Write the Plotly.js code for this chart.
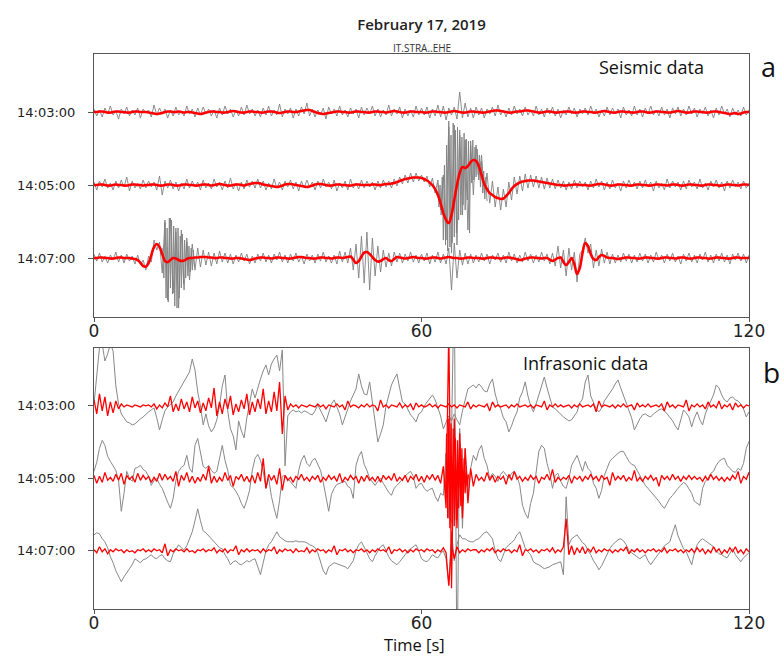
<!DOCTYPE html>
<html><head><meta charset="utf-8">
<script src="https://cdn.plot.ly/plotly-3.0.1.min.js"></script>
<style>html,body{margin:0;padding:0;background:#fff}</style>
</head><body><div id="chart" style="width:784px;height:657px"></div>
<script>
// sample spacing of the full-length traces (s)
const DT = 0.5;
const stationLabels = ['14:03:00','14:05:00','14:07:00'];
const xTicks = [0,60,120];

// ---- Seismic (panel a), amplitudes ----
const seisGray1 = [
 3,-4,2,-5,4,-2,6,-3,1,-7,3,-2,5,-4,2,-3,4,-6,3,-1,
 2,-5,7,-3,4,-2,3,-6,2,-4,5,-3,1,-4,6,-2,3,-5,4,-3,
 5,-2,3,-4,2,-6,4,-3,6,-2,3,-5,2,-4,5,-3,7,-2,3,-4,
 2,-5,4,-3,6,-4,2,-3,8,-5,3,-2,4,-6,3,-4,5,-2,9,-4,
 3,-5,2,-3,4,-7,5,-2,3,-4,6,-3,2,-5,4,-2,3,-6,5,-3,
 4,-2,6,-4,3,-5,2,-3,7,-4,3,-2,5,-6,3,-4,2,-5,6,-3,
 4,-3,5,-6,3,-4,7,-5,6,-8,4,-3,5,-7,20,-6,9,-5,4,-6,
 5,-3,4,-6,3,-2,5,-4,7,-3,2,-5,4,-3,6,-2,3,-4,5,-3,
 2,-4,6,-3,3,-5,4,-2,5,-4,3,-6,2,-3,5,-2,4,-5,3,-2,
 4,-3,6,-2,3,-5,2,-4,5,-3,4,-2,3,-6,5,-3,2,-4,6,-3,
 3,-5,4,-2,6,-3,2,-4,5,-3,3,-6,4,-2,5,-4,3,-3,6,-2,
 4,-5,3,-2,5,-4,2,-6,4,-3,6,-2,3,-5,4,-3,2,-4,5,-3,
 2];
const seisGray2 = [
 3,-5,4,-2,6,-3,2,-5,4,-3,5,-2,8,-6,4,-3,2,-4,5,-3,
 4,-2,3,-5,9,-10,4,-3,5,-4,3,-6,2,-4,6,-3,4,-2,3,-5,
 5,-3,2,-4,6,-2,3,-5,4,-3,7,-4,2,-6,3,-4,5,-2,4,-3,
 6,-3,4,-5,2,-4,6,-3,3,-5,4,-2,5,-4,3,-6,4,-3,5,-2,
 3,-5,4,-3,6,-2,3,-4,5,-6,2,-3,4,-5,6,-3,2,-4,5,-3,
 4,-2,3,-5,4,-3,5,-2,4,-3,6,-1,8,1,10,2,12,3,12,4,
 10,3,9,-2,7,-8,5,-25,10,-55,64,-68,60,-60,55,-30,45,-45,44,-10,
 40,5,30,-8,12,-18,4,-22,-2,-25,-4,-22,3,-15,8,-9,9,-6,11,-3,
 10,-2,9,-3,8,-4,7,-3,6,-4,5,-3,4,-5,3,-4,5,-3,4,-2,
 3,-5,4,-3,6,-2,4,-5,3,-4,5,-3,2,-6,4,-3,5,-2,3,-4,
 4,-3,5,-2,3,-6,4,-3,2,-5,6,-3,4,-2,3,-5,4,-4,5,-2,
 3,-4,6,-3,2,-5,4,-2,5,-3,3,-6,4,-3,5,-2,3,-4,4,-3,
 2];
// finer samples (0.2 s) of the strong arrival on the 14:05 trace, from 63 s
const seisGray2Burst = [
 2,-22,0,-30,8, -55,20,-60,40,-66, 58,-62,50,-58,62, -52,55,-48,58,-35,
 50,-30,48,-20,52, -25,46,-15,44,-48, 40,2,45,5,38, 8,36,10,30,-2,
 24,-8,14,-14,8, -16];
const seisGray3 = [
 4,-3,5,-4,2,-5,3,-2,6,-4,3,-5,4,-3,2,-6,3,-7,-2,-12,
 2,-4,18,8,16,-15,38,-42,40,-35,30,-50,28,-32,20,-22,14,-12,10,-9,
 8,-7,6,-8,5,-6,7,-4,5,-5,4,-6,3,-4,5,-3,4,-6,2,-5,
 4,-3,5,-4,3,-5,4,-2,6,-4,3,-5,4,-3,5,-4,2,-6,4,-3,
 3,-5,4,-3,6,-4,2,-5,3,-6,7,-4,6,-5,10,-12,14,-20,22,-25,
 26,-32,20,-18,12,-14,8,-9,5,-8,6,-4,5,-5,4,-3,6,-4,3,-5,
 4,-3,5,-6,3,-4,6,-5,4,-6,10,-32,15,-20,8,-7,5,-6,4,-5,
 3,-4,5,-3,4,-6,3,-2,5,-4,3,-5,6,-3,4,-5,3,-4,6,-3,
 4,-5,3,-4,6,-3,4,-6,5,-8,12,-10,8,-18,10,-12,6,-24,4,8,
 20,5,14,-10,8,-8,9,-5,6,-6,4,-5,3,-4,5,-3,4,-5,3,-4,
 5,-3,4,-5,3,-4,6,-2,3,-5,4,-3,5,-4,2,-6,4,-3,5,-4,
 3,-5,4,-2,6,-4,3,-5,4,-3,5,-4,3,-6,4,-2,5,-3,4,-5,
 3];
// finer samples (0.2 s) of the first burst on the 14:07 trace, from 12.6 s
const seisGray3Burst = [
 10,-20, 36,-40,30,-44,40, -30,38,-36,32,-48, 26,-50,30,-40,22,
 -30,24,-26,18,-20, 16,-18,12,-14,10, -12,8,-9];
const seisRed1 = [
 0,0,0.5,0.5,0,-0.5,-0.5,0,0.5,0.5,0,0,-0.5,-0.5,0,0.5,0.5,0,0,0,
 -0.5,-1,-1.5,-2,-1.5,-1,0,0.5,0.5,0,0,0.5,0,-0.5,0,0,-0.5,-1,-1.5,-2,
 -1.5,-0.5,0,0.5,0.5,0,0,-0.5,-0.5,0,0.5,1,0.5,0,-0.5,-0.5,0,0.5,0.5,0,
 0,-0.5,-0.5,0,0.5,0.5,0,-0.5,-1,-0.5,0,0.5,0.5,0,0,0.5,1,1.5,2,2,
 1,0,-1,-1.5,-2,-1.5,-1,-0.5,0,0.5,0.5,0,0,-0.5,-0.5,0,0.5,0.5,0,0,
 -0.5,-0.5,0,0.5,0.5,0,0,-0.5,0,0.5,1,0.5,0,-0.5,-0.5,0,0.5,0.5,0,0,
 0,-0.5,-0.5,0,0.5,0.5,0,0,-0.5,-0.5,0,0.5,1,0.5,0,-0.5,-0.5,0,0.5,0.5,
 0,0,-0.5,-0.5,0,0.5,1,1.5,1.5,1,0.5,0,-0.5,-0.5,0,0.5,0.5,1,1.5,1.5,
 1,0.5,0,-0.5,-0.5,0,0.5,0.5,0,-0.5,-0.5,0,0,0.5,0.5,0,-0.5,-0.5,0,0.5,
 0.5,0,0,-0.5,-0.5,0,0.5,1,0.5,0,-0.5,-0.5,0,0.5,0.5,0,0,-0.5,-0.5,0,
 0.5,0.5,0,-0.5,-0.5,0,0.5,0.5,0,0,-0.5,-0.5,0,0.5,1,0.5,0,-0.5,-0.5,0,
 0.5,0.5,0,0,-0.5,-0.5,0,0.5,0.5,0,-0.5,-1,-1.5,-2,-1.5,-1,-2,-1.5,-0.5,0,
 0];
const seisRed2 = [
 0,0,0.5,0.5,0,-0.5,-0.5,0,0.5,0,0,-0.5,-0.5,0,0.5,0.5,0,0,-0.5,0,
 0,0.5,0.5,0,-0.5,-0.5,0,0.5,0.5,0,-0.5,-0.5,0,0.5,0.5,0,0,-0.5,-0.5,0,
 0.5,0.5,0,-0.5,0,0.5,1,0.5,0,-0.5,-0.5,0,0.5,0.5,0,-0.5,0.5,1,1.5,2,
 2,1.5,0.5,0,-0.5,-1,-1.5,-2,-1.5,-0.5,0.5,1,1,0.5,0,-0.5,-1,-1.5,-2,-1.5,
 -0.5,0.5,1,1,0.5,0,-0.5,-0.5,0,0.5,0.5,0,0,-0.5,-0.5,0,0.5,0.5,0,0,
 0,0,0.5,0.5,0,0,0.5,1,1,1.5,2,3,4,5,6,6.5,7,7.5,7.5,7.5,
 7,6,4.5,2.5,0,-4,-10,-18,-28,-35,-38,-30,-15,0,12,18,17,19,23,25,
 24,19,10,1,-4,-8,-10,-12,-13,-14,-13.5,-11,-8,-4,-1,1,2.5,3.5,4,4.5,
 4.6,4.5,4,3.5,3,2.5,2,1.5,1,0.5,0,0,-0.5,-0.5,0,0,0.5,0.5,0,0,
 0,-0.5,-0.5,0,0.5,1,1,0.5,0,-0.5,-0.5,0,0.5,0.5,0,0,-0.5,-0.5,0,0.5,
 0.5,0,0,-0.5,-0.5,0,0.5,0.5,0,0,-0.5,0,0.5,0.5,0,-0.5,-0.5,0,0.5,0.5,
 0,0,-0.5,-0.5,0,0.5,0.5,0,0,-0.5,-0.5,0,0.5,0.5,0,0,-0.5,0,0.5,0.5,
 0];
const seisRed3 = [
 0,0,0.5,0.5,0,0,-0.5,-0.5,0,0.5,0.5,0,0,0,-0.5,-1,-2,-4.5,-8,-8.5,
 -5,3,11,14,11,4,-3,-4,-2,0,-0.5,-2,-3,-2.5,-1,0,0,0.5,0.5,1,
 1,1,0.5,0.5,0,0,0.5,0.5,0,0,-0.5,-0.5,0,0,-0.5,-1,-1.5,-2,-1.5,-0.5,
 0,0.5,0.5,0,0,-0.5,0,0.5,0.5,0,0,-0.5,-0.5,0,0.5,1,1,0.5,0,0,
 -0.5,-0.5,0,0.5,0.5,0,0,-0.5,0,0.5,0.5,0,0.5,1,1.5,-1.5,-5,-3,1.5,5.5,
 6,4,1,-2,-3.5,-3,-1,0,-2,-3,-1,1,0.5,0,-0.5,0,0.5,1,0.5,0,
 0,-0.5,-0.5,0,0.5,0.5,0,-0.5,0,0.5,1,0.5,0,0,-0.5,-0.5,0,0.5,0.5,0,
 0,0,-0.5,-0.5,0,0.5,0.5,0,0,-0.5,0,0.5,0.5,0,-0.5,-1,-2,-1.5,-0.5,0,
 0.5,0.5,0,0,-0.5,0,0,-1.5,-3,-1.5,0,0.5,-4,-7,-4,0,-6,-16,-10,5,
 15,12,4,-1,-2,1,3,2,0.5,0,0,-0.5,-1,-0.5,0,0.5,0.5,0,0,-0.5,
 -0.5,0,0.5,0.5,0,0,-0.5,-0.5,0,0.5,0.5,0,0,-0.5,0,0.5,0.5,0,-0.5,-0.5,
 0,0.5,0.5,0,0,-0.5,-0.5,0,0.5,0.5,0,0,-0.5,-0.5,0,0.5,0.5,0,0,0,
 0];

// ---- Infrasonic (panel b) ----
const infraGray1 = [
 2,30,58,62,45,52,62,55,20,2,-8,-12,-16,-17,-19,-18,-15,-13,-11,-8,
 -6,-4,-2,-12,-24,-14,-5,-1,2,4,10,15,20,25,30,34,47,36,14,0,
 -19,-8,-20,-26,-22,-14,0,20,31,-5,-23,-30,-44,-15,-25,-32,-12,2,17,8,
 18,27,35,41,31,42,47,51,35,56,-60,-10,-6,-4,-6,-5,-7,-5,-6,-8,
 -9,-5,1,-4,-10,-16,-8,2,6,-1,-8,-19,-12,-3,5,12,17,32,20,12,
 11,24,2,-18,-36,-28,-19,0,11,21,27,32,18,4,2,-4,-9,-12,-16,-8,
 -6,0,4,8,11,6,-2,-10,-23,-17,-10,-15,-8,-14,-19,-5,5,17,19,21,
 18,22,19,15,14,22,27,12,2,-3,-12,-16,-26,-20,-12,-6,8,14,24,10,
 0,-6,2,11,20,29,18,7,-1,-3,-6,-8,-11,-13,-15,-14,-10,-6,3,7,
 24,31,10,4,-3,-6,-2,5,9,12,17,22,26,18,10,2,-6,-12,-24,-18,
 -13,-9,-8,-10,-11,-8,-6,-4,-3,-5,-8,-11,-15,-20,-24,-14,-4,-7,-11,-21,
 -12,-6,-14,-19,-8,-1,6,11,21,18,11,6,4,8,9,6,5,2,-3,-11,
 -6];
const infraGray2 = [
 7,16,30,38,33,22,17,13,8,-2,-33,-15,7,0,-3,10,11,13,9,7,
 2,-7,-2,0,-6,-10,-18,-24,-30,-20,-2,7,11,13,23,10,6,33,40,25,
 12,10,13,8,5,7,20,33,18,8,-7,-9,-13,-18,-25,-30,-22,-12,8,20,
 24,18,7,-10,0,-18,-30,-40,-22,2,3,0,-3,-6,-10,8,18,23,15,12,
 18,20,14,8,-4,-18,-33,-16,-10,-6,-5,-4,-3,-8,-10,-20,13,22,27,14,
 8,0,-4,-7,-3,0,-5,-10,-14,-17,-10,-7,-4,0,3,5,7,2,-10,-6,
 -5,-10,-13,-11,-10,-18,-23,-15,-17,25,-40,45,200,-200,50,-50,30,-20,10,23,
 18,28,33,20,13,0,5,2,-3,4,7,3,0,5,7,2,-7,-27,-35,-40,
 -25,-15,7,27,33,30,15,5,-10,3,5,-3,-8,-10,0,13,18,23,15,7,
 17,10,7,-5,-10,-20,-12,3,10,17,20,23,25,27,27,22,17,14,13,8,
 3,-2,-7,-10,-13,-16,-20,-23,-27,-30,-25,-20,-17,-13,-10,-7,-4,-6,-10,-15,
 -23,-25,-27,-10,-3,0,5,7,13,17,19,20,13,10,7,6,10,8,15,30,
 37];
const infraGray3 = [
 16,18,17,12,9,3,-6,-12,-20,-25,-31,-26,-22,-17,-14,-8,-10,-12,-9,-8,
 -6,-4,-7,-8,-5,-4,-8,-10,-11,-3,1,6,3,1,5,12,19,30,42,30,
 20,18,15,12,8,5,3,2,-4,-8,-14,-11,-10,-13,-14,-12,-10,-11,-9,-8,
 -15,-24,-12,0,6,9,14,19,14,12,10,9,9,9,10,9,9,9,8,6,
 5,3,-2,-12,-20,-24,-16,-14,-12,-13,-14,-15,-16,-18,-14,-10,0,6,9,4,
 -2,-8,-11,-5,0,4,6,0,-6,-10,-12,-14,-11,-8,-4,0,2,4,6,0,
 -8,-10,-11,-8,-4,-6,-7,-3,0,-8,-34,19,-10,6,16,12,12,10,9,9,
 11,12,15,18,19,16,12,0,-8,-11,-3,3,6,8,11,16,19,10,3,-1,
 -4,-11,-13,-14,-16,-18,-17,-16,-14,-13,-12,-11,-24,54,6,12,14,16,12,8,
 6,0,-4,-10,-14,-19,-15,-9,-3,2,6,9,11,12,10,6,0,-2,-4,-6,
 -8,-6,-4,-10,-14,-10,-6,-2,2,5,7,9,18,26,15,8,2,-1,-8,-14,
 -2,6,10,12,10,8,6,4,0,-3,-4,-6,-7,-2,2,-4,-8,-11,-7,-4,
 -2];
const infraRed1 = [
 6,-8,12,-5,9,-10,4,-7,5,-3,2,-1,1,0,-1,1,0,-1,1,0,
 1,-1,2,-3,1,-2,3,-1,10,-6,2,-5,7,-3,4,-6,9,-2,5,-7,
 3,-5,8,-2,18,-10,4,-8,7,-3,10,-9,2,-6,6,-3,12,-9,4,-6,
 7,-3,17,-8,5,-6,14,-5,24,-28,10,-4,2,-1,1,-2,1,0,-1,1,
 0,-1,2,-1,1,-3,1,0,-1,2,-1,1,-4,5,-1,1,0,-2,1,-1,
 2,-1,1,0,-5,6,-1,1,-2,1,0,-1,3,-2,1,-1,2,-4,3,-1,
 1,-1,0,2,-1,1,-2,1,0,-1,2,-1,1,-2,1,0,-1,4,-3,1,
 -1,1,0,-1,2,-5,4,-1,1,-1,0,1,-2,1,-1,2,-1,0,1,-1,
 1,-2,1,0,-1,5,-4,1,-1,2,-1,1,-1,0,1,-2,1,-1,2,-1,
 0,1,-1,2,-6,5,-1,1,0,-1,1,-2,1,-1,2,-1,0,1,-4,3,
 -1,1,-1,2,-1,0,1,-1,2,-5,4,-1,1,-2,1,0,-1,6,-5,1,
 -1,2,-1,1,-3,4,-1,1,-2,5,-3,1,-1,2,-4,3,-1,1,-2,1,
 0];
const infraRed2 = [
 3,-5,2,-4,6,-2,1,-3,4,-2,5,-6,3,-1,2,-4,5,-2,3,-1,
 2,-4,1,-3,5,-2,4,-1,2,-3,7,-8,3,-2,6,-4,2,-5,1,-3,
 4,-2,12,-5,2,-4,1,-3,6,-2,3,-8,2,-1,4,-3,2,-4,3,-5,
 6,-3,20,-10,4,-2,3,-6,10,-12,3,-2,1,-4,2,-1,4,-2,1,-3,
 2,-1,3,-4,1,-2,3,-1,2,-3,5,-4,1,-2,3,-1,2,-5,2,-3,
 3,-2,1,-3,2,-4,3,-1,2,-2,5,-3,1,-2,3,-4,2,-1,4,-3,
 2,-4,3,-1,4,-2,3,-5,12,-30,150,-110,60,-50,45,-40,30,-25,10,-8,
 4,-2,1,-3,6,-2,3,-4,2,-1,2,-6,4,-2,7,-1,2,-3,1,-2,
 3,-1,2,-5,1,-1,4,-2,9,-4,1,-2,1,-1,3,-5,2,-1,2,-3,
 2,-1,4,-1,2,-3,3,-1,1,-7,6,-2,2,-1,3,-3,1,-2,8,-3,
 1,-3,2,-1,3,-2,1,-8,3,-1,2,-2,4,-1,2,-3,2,-1,3,-1,
 2,-1,1,-3,2,-2,4,-1,2,-2,1,-3,1,-2,3,-1,7,-5,2,-1,
 6];
// finer samples (0.2 s) of the explosion burst on the 14:05 infrasound trace, from 64.4 s
const infraRed2Burst = [
 -20,45,-40, 60,-50,55,-45,50, -48,40,-42,38,-30, 35,-28,30,-22,20, -15,12,-8,4];
const infraRed3 = [
 1,-2,4,-1,2,-3,1,-1,2,0,1,-2,1,-1,0,-2,1,0,2,-1,
 1,-1,2,0,1,-2,7,-5,1,-1,2,0,1,-1,2,-1,0,-2,1,0,
 2,-1,1,0,3,-2,1,-1,2,-2,1,0,5,-4,1,-1,2,-1,1,0,
 1,-2,2,-1,1,0,4,-3,1,-1,2,0,1,-2,2,-1,0,-1,3,-2,
 1,-1,2,0,1,-2,1,-1,5,-4,1,0,2,-1,1,-2,1,0,2,-1,
 1,-2,1,-1,2,0,1,-1,4,-3,1,0,2,-1,1,-2,1,-1,2,0,
 1,-1,2,0,1,-2,1,-1,3,-2,-35,6,-8,4,-2,1,-1,2,0,1,
 1,-2,1,-1,2,0,3,-2,1,-1,2,0,1,-2,1,-1,6,-5,1,0,
 2,-1,1,-2,1,0,2,-1,3,-2,1,-1,4,32,-4,5,-4,3,-2,4,
 -3,2,-1,4,-2,1,-1,2,0,1,-2,1,-1,2,0,4,-3,1,-1,2,
 -1,1,-2,1,0,2,-1,1,-1,3,-2,1,0,2,-1,1,-2,1,-1,2,
 -2,3,-1,2,-3,1,-2,4,-1,2,-3,1,-2,3,-1,4,-2,1,-3,2,
 -1];

// ---- layout helpers (positions, not data) ----
const seisOffsets = [0,-73,-146];
const infraOffsets = [0,-72.5,-145];
function timeAxis(n, start, step){ const t=[]; for(let i=0;i<n;i++) t.push(start+i*step); return t; }
function shift(arr,off){ return arr.map(v=>v+off); }

const traces = [];
function addTrace(arr, off, ax, ay, color, width, shape, start, step){
  traces.push({x:timeAxis(arr.length, start||0, step||DT), y:shift(arr,off), xaxis:ax, yaxis:ay,
    type:'scatter', mode:'lines', line:{color:color, width:width, shape:shape||'linear'},
    hoverinfo:'skip', showlegend:false});
}
const GRAY = '#808080', RED = '#ff0000';
[seisGray1,seisGray2,seisGray3].forEach((a,k)=>addTrace(a,seisOffsets[k],'x','y',GRAY,0.9));
addTrace(seisGray2Burst, seisOffsets[1], 'x','y', GRAY, 0.9, 'linear', 63, 0.2);
addTrace(seisGray3Burst, seisOffsets[2], 'x','y', GRAY, 0.9, 'linear', 12.6, 0.2);
[seisRed1,seisRed2,seisRed3].forEach((a,k)=>addTrace(a,seisOffsets[k],'x','y',RED,2.6,'spline'));
[infraGray1,infraGray2,infraGray3].forEach((a,k)=>addTrace(a,infraOffsets[k],'x2','y2','#888888',1));
[infraRed1,infraRed2,infraRed3].forEach((a,k)=>addTrace(a,infraOffsets[k],'x2','y2',RED,1.3));
addTrace(infraRed2Burst, infraOffsets[1], 'x2','y2', RED, 1.3, 'linear', 64.4, 0.2);

const axisCommon = {showline:true, mirror:true, linecolor:'#555', linewidth:1,
  showgrid:false, zeroline:false, ticks:'outside', tickcolor:'#555'};
const xFont = {family:'DejaVu Sans, sans-serif', size:17, color:'#222'};
const yFont = {family:'DejaVu Sans, sans-serif', size:13, color:'#222'};
const textFont = 'Open Sans, sans-serif';

const layout = {
  width:784, height:657,
  margin:{l:94, r:35, t:54, b:48},
  paper_bgcolor:'#fff', plot_bgcolor:'#fff',
  showlegend:false,
  font:{family:textFont, color:'#222'},
  title:{text:'February 17, 2019', font:{family:textFont, size:15, weight:600, color:'#222'},
    x:0.5, xref:'paper', xanchor:'center', y:1-25/657, yref:'container', yanchor:'middle'},
  xaxis:Object.assign({}, axisCommon, {domain:[0,1], anchor:'y', range:[0,120], tickvals:xTicks, ticklen:4, ticklabelstandoff:-5, tickfont:xFont}),
  yaxis:Object.assign({}, axisCommon, {domain:[0.526,1], anchor:'x', range:[-205,58], tickvals:seisOffsets, ticktext:stationLabels, ticklen:5, ticklabelstandoff:10, tickfont:yFont}),
  xaxis2:Object.assign({}, axisCommon, {domain:[0,1], anchor:'y2', range:[0,120], tickvals:xTicks, ticklen:4, ticklabelstandoff:-5, tickfont:xFont}),
  yaxis2:Object.assign({}, axisCommon, {domain:[0,0.4703], anchor:'x2', range:[-203.3,58], tickvals:infraOffsets, ticktext:stationLabels, ticklen:5, ticklabelstandoff:10, tickfont:yFont}),
  annotations:[
    {text:'IT.STRA..EHE', xref:'paper', yref:'paper', x:0.5, y:1.0, xanchor:'center', yanchor:'bottom', yshift:-3, showarrow:false,
      font:{family:textFont, size:10, color:'#333'}},
    {text:'Seismic data', xref:'paper', yref:'paper', x:0.8504, y:0.9766, xanchor:'center', yanchor:'middle', showarrow:false,
      font:{family:textFont, size:18, color:'#111'}},
    {text:'a', xref:'paper', yref:'paper', x:1.030, y:0.9766, xanchor:'center', yanchor:'middle', showarrow:false,
      font:{family:textFont, size:27, color:'#111'}},
    {text:'Infrasonic data', xref:'paper', yref:'paper', x:0.751, y:0.443, xanchor:'center', yanchor:'middle', showarrow:false,
      font:{family:textFont, size:18, color:'#111'}},
    {text:'b', xref:'paper', yref:'paper', x:1.034, y:0.427, xanchor:'center', yanchor:'middle', showarrow:false,
      font:{family:textFont, size:28, color:'#111'}},
    {text:'Time [s]', xref:'paper', yref:'paper', x:0.490, y:-0.0631, xanchor:'center', yanchor:'middle', showarrow:false,
      borderpad:0, font:{family:textFont, size:16.5, color:'#111'}}
  ]
};
Plotly.newPlot('chart', traces, layout, {staticPlot:true, displayModeBar:false});
</script>
</body></html>
